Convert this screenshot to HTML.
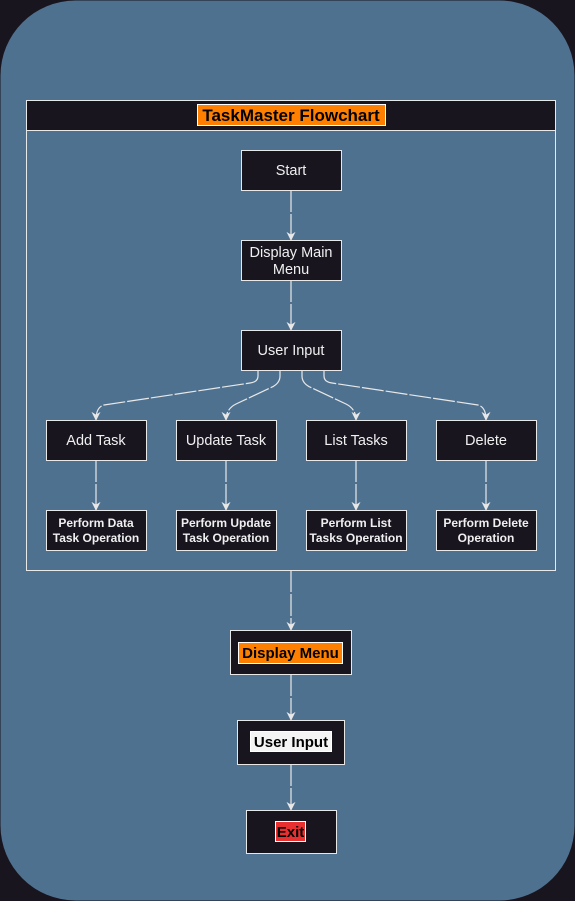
<!DOCTYPE html>
<html><head><meta charset="utf-8"><style>
html,body{margin:0;padding:0;background:#18151e;}
svg{display:block;font-family:"Liberation Sans",Arial,sans-serif;}
</style></head><body>
<svg width="575" height="901" viewBox="0 0 575 901" xmlns="http://www.w3.org/2000/svg">
<defs>
<marker id="b" viewBox="0 0 10 10" refX="9" refY="5" markerWidth="9" markerHeight="9" orient="auto" markerUnits="userSpaceOnUse"><path d="M0,0 L10,5 L0,10 L3,5 Z" fill="#e8e8e8"/></marker></defs>
<rect x="0" y="0" width="575" height="901" fill="#18151e"/>
<rect x="0.5" y="0.5" width="574" height="900" rx="75" fill="#4f7190"/>
<rect x="26.5" y="100.5" width="529" height="470" fill="none" stroke="#e8e8e8"/>
<rect x="26.5" y="100.5" width="529" height="30" fill="#18151e" stroke="#e8e8e8"/>
<rect x="197.5" y="104.5" width="188" height="21" fill="#ff8000" stroke="#fff"/>
<text x="291" y="121" text-anchor="middle" font-size="17" font-weight="bold" fill="#000">TaskMaster Flowchart</text>
<g stroke="#e8e8e8" stroke-width="1.2" fill="none" marker-end="url(#b)" stroke-dasharray="22 2">
<path d="M291,190 V240"/><path d="M291,280 V330"/>
<path d="M258,370 V376 Q258,382 250,383 L104,405 Q96,407 96,420"/>
<path d="M280,370 V376 Q280,384 270,388 L236,404 Q226,409 226,420"/>
<path d="M302,370 V376 Q302,384 312,388 L346,404 Q356,409 356,420"/>
<path d="M324,370 V376 Q324,382 332,383 L478,405 Q486,407 486,420"/>
<path d="M96,460 V510"/><path d="M226,460 V510"/><path d="M356,460 V510"/><path d="M486,460 V510"/>
<path d="M291,570 V630"/><path d="M291,674 V720"/><path d="M291,764 V810"/>
</g>
<g fill="#18151e" stroke="#e8e8e8">
<rect x="241.5" y="150.5" width="100" height="40"/><rect x="241.5" y="240.5" width="100" height="40"/><rect x="241.5" y="330.5" width="100" height="40"/>
<rect x="46.5" y="420.5" width="100" height="40"/><rect x="176.5" y="420.5" width="100" height="40"/><rect x="306.5" y="420.5" width="100" height="40"/><rect x="436.5" y="420.5" width="100" height="40"/>
<rect x="46.5" y="510.5" width="100" height="40"/><rect x="176.5" y="510.5" width="100" height="40"/><rect x="306.5" y="510.5" width="100" height="40"/><rect x="436.5" y="510.5" width="100" height="40"/>
<rect x="230.5" y="630.5" width="121" height="44"/><rect x="237.5" y="720.5" width="107" height="44"/><rect x="246.5" y="810.5" width="90" height="43"/>
</g>
<g fill="#f0f0f0" font-size="14.5" text-anchor="middle">
<text x="291" y="175">Start</text>
<text x="291" y="257">Display Main</text><text x="291" y="274">Menu</text>
<text x="291" y="355">User Input</text>
<text x="96" y="445">Add Task</text><text x="226" y="445">Update Task</text><text x="356" y="445">List Tasks</text><text x="486" y="445">Delete</text>
</g>
<g fill="#f0f0f0" font-size="12" font-weight="bold" text-anchor="middle">
<text x="96" y="527">Perform Data</text><text x="96" y="542">Task Operation</text>
<text x="226" y="527">Perform Update</text><text x="226" y="542">Task Operation</text>
<text x="356" y="527">Perform List</text><text x="356" y="542">Tasks Operation</text>
<text x="486" y="527">Perform Delete</text><text x="486" y="542">Operation</text>
</g>
<rect x="238.5" y="642.5" width="104" height="21" fill="#ff8000" stroke="#fff"/>
<text x="290.5" y="658" text-anchor="middle" font-size="15" font-weight="bold" fill="#000">Display Menu</text>
<rect x="250.5" y="731.5" width="81" height="20" fill="#f4f4f4" stroke="#fff"/>
<text x="291" y="747" text-anchor="middle" font-size="15" font-weight="bold" fill="#000">User Input</text>
<rect x="275.5" y="821.5" width="30" height="20" fill="#e83030" stroke="#fff"/>
<text x="290.5" y="837" text-anchor="middle" font-size="15" font-weight="bold" fill="#000">Exit</text>
</svg>
</body></html>
